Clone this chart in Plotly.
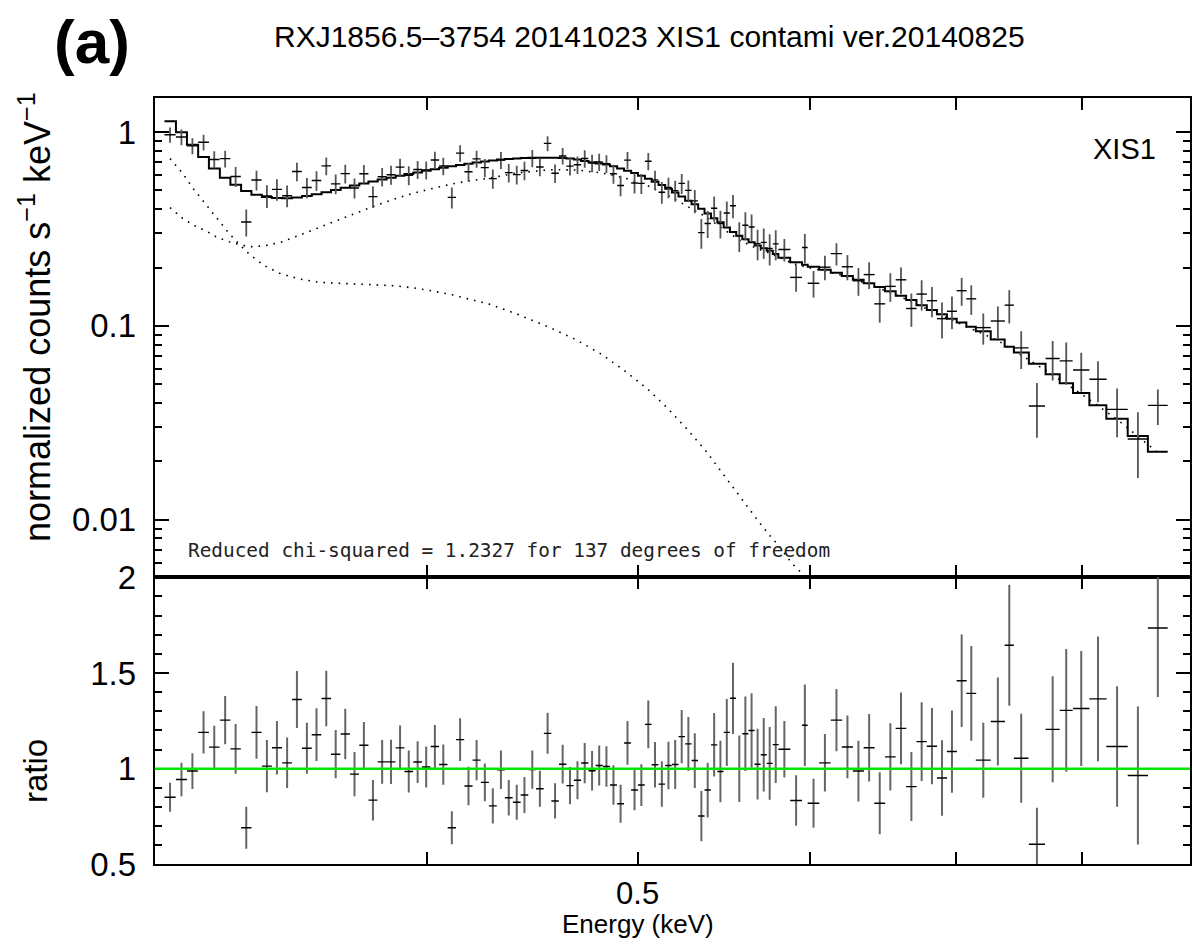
import math
import plotly.graph_objects as go

# ---------------- data ----------------
energy = [
    0.3049, 0.3086, 0.3122, 0.3159, 0.3195, 0.3232, 0.3268, 0.3305, 0.3341, 0.3378,
    0.3414, 0.3451, 0.3487, 0.3524, 0.3560, 0.3597, 0.3633, 0.3670, 0.3706, 0.3743,
    0.3779, 0.3816, 0.3852, 0.3889, 0.3925, 0.3962, 0.3998, 0.4035, 0.4071, 0.4108,
    0.4144, 0.4181, 0.4217, 0.4254, 0.4290, 0.4327, 0.4363, 0.4400, 0.4436, 0.4473,
    0.4509, 0.4546, 0.4582, 0.4619, 0.4655, 0.4692, 0.4728, 0.4765, 0.4801, 0.4838,
    0.4874, 0.4911, 0.4947, 0.4984, 0.5020, 0.5057, 0.5093, 0.5130, 0.5166, 0.5203,
    0.5239, 0.5276, 0.5312, 0.5349, 0.5385, 0.5422, 0.5458, 0.5495, 0.5531, 0.5568,
    0.5604, 0.5641, 0.5677, 0.5714, 0.5750, 0.5787,
    0.5840, 0.5913, 0.5968, 0.6023, 0.6096, 0.6171, 0.6243, 0.6316, 0.6388, 0.6460,
    0.6533, 0.6607, 0.6680, 0.6753, 0.6827, 0.6900, 0.6973, 0.7045, 0.7117, 0.7208,
    0.7320, 0.7409, 0.7503, 0.7629, 0.7757, 0.7869, 0.7995, 0.8138, 0.8304, 0.8489,
    0.8670,
]
half_width = [
    0.0018, 0.0018, 0.0018, 0.0018, 0.0018, 0.0018, 0.0018, 0.0018, 0.0018, 0.0018,
    0.0018, 0.0018, 0.0018, 0.0018, 0.0018, 0.0018, 0.0018, 0.0018, 0.0018, 0.0018,
    0.0018, 0.0018, 0.0018, 0.0018, 0.0018, 0.0018, 0.0018, 0.0018, 0.0018, 0.0018,
    0.0018, 0.0018, 0.0018, 0.0018, 0.0018, 0.0018, 0.0018, 0.0018, 0.0018, 0.0018,
    0.0018, 0.0018, 0.0018, 0.0018, 0.0018, 0.0018, 0.0018, 0.0018, 0.0018, 0.0018,
    0.0018, 0.0018, 0.0018, 0.0018, 0.0018, 0.0018, 0.0018, 0.0018, 0.0018, 0.0018,
    0.0018, 0.0018, 0.0018, 0.0018, 0.0018, 0.0018, 0.0018, 0.0018, 0.0018, 0.0018,
    0.0018, 0.0018, 0.0018, 0.0018, 0.0018, 0.0018,
    0.0037, 0.0037, 0.0018, 0.0037, 0.0037, 0.0037, 0.0037, 0.0037, 0.0037, 0.0037,
    0.0037, 0.0037, 0.0037, 0.0037, 0.0037, 0.0037, 0.0037, 0.0037, 0.0037, 0.0057,
    0.0055, 0.0036, 0.0058, 0.0065, 0.0058, 0.0054, 0.0069, 0.0074, 0.0094, 0.0091,
    0.0091,
]
counts = [
    0.970, 0.944, 0.850, 0.887, 0.723, 0.730, 0.591, 0.344, 0.566, 0.469,
    0.507, 0.470, 0.627, 0.518, 0.563, 0.670, 0.541, 0.611, 0.515, 0.610,
    0.465, 0.589, 0.603, 0.660, 0.599, 0.642, 0.638, 0.719, 0.669, 0.461,
    0.780, 0.625, 0.728, 0.656, 0.576, 0.718, 0.618, 0.604, 0.634, 0.734,
    0.661, 0.875, 0.614, 0.754, 0.668, 0.679, 0.731, 0.693, 0.702, 0.688,
    0.610, 0.531, 0.717, 0.547, 0.544, 0.708, 0.567, 0.490, 0.519, 0.499,
    0.544, 0.501, 0.442, 0.303, 0.338, 0.405, 0.338, 0.383, 0.417, 0.292,
    0.331, 0.324, 0.266, 0.270, 0.251, 0.265, 0.248, 0.178, 0.254, 0.166,
    0.201, 0.236, 0.202, 0.171, 0.184, 0.130, 0.160, 0.173, 0.123, 0.146,
    0.135, 0.109, 0.119, 0.152, 0.138, 0.098, 0.106, 0.128, 0.077, 0.0386,
    0.0679, 0.0660, 0.0592, 0.0531, 0.0371, 0.0261, 0.0389,
]
counts_err = [
    0.087, 0.087, 0.080, 0.082, 0.073, 0.073, 0.070, 0.055, 0.066, 0.063,
    0.064, 0.060, 0.069, 0.062, 0.066, 0.071, 0.063, 0.068, 0.061, 0.066,
    0.059, 0.065, 0.068, 0.070, 0.067, 0.068, 0.068, 0.073, 0.069, 0.057,
    0.076, 0.069, 0.073, 0.070, 0.066, 0.072, 0.068, 0.067, 0.069, 0.074,
    0.069, 0.079, 0.068, 0.074, 0.071, 0.071, 0.075, 0.072, 0.072, 0.072,
    0.069, 0.064, 0.072, 0.065, 0.065, 0.072, 0.066, 0.063, 0.063, 0.062,
    0.065, 0.062, 0.061, 0.053, 0.054, 0.060, 0.055, 0.056, 0.057, 0.051,
    0.055, 0.052, 0.048, 0.048, 0.046, 0.047, 0.033, 0.028, 0.044, 0.026,
    0.029, 0.031, 0.030, 0.028, 0.029, 0.026, 0.027, 0.027, 0.024, 0.026,
    0.024, 0.023, 0.023, 0.025, 0.024, 0.018, 0.020, 0.025, 0.017, 0.0121,
    0.0156, 0.0162, 0.0135, 0.0127, 0.0105, 0.0097, 0.0081,
]
model = [
    1.14, 1.00, 0.86, 0.745, 0.65, 0.582, 0.535, 0.497, 0.476, 0.463,
    0.457, 0.456, 0.46, 0.468, 0.478, 0.49, 0.503, 0.517, 0.53, 0.543,
    0.556, 0.569, 0.582, 0.595, 0.608, 0.62, 0.632, 0.644, 0.655, 0.666,
    0.677, 0.687, 0.697, 0.706, 0.715, 0.722, 0.728, 0.732, 0.735, 0.737,
    0.738, 0.738, 0.738, 0.736, 0.732, 0.722, 0.71, 0.70, 0.69, 0.68,
    0.667, 0.65, 0.632, 0.615, 0.595, 0.575, 0.555, 0.533, 0.51, 0.488,
    0.466, 0.443, 0.424, 0.402, 0.38, 0.36, 0.343, 0.322, 0.305, 0.292,
    0.28, 0.27, 0.26, 0.252, 0.244, 0.235, 0.225, 0.213, 0.207, 0.202,
    0.195, 0.188, 0.181, 0.173, 0.166, 0.159, 0.151, 0.143, 0.136, 0.128,
    0.121, 0.115, 0.109, 0.104, 0.099, 0.094, 0.085, 0.078, 0.073, 0.0637,
    0.0563, 0.0506, 0.045, 0.0389, 0.0332, 0.027, 0.0224,
]
ratio = [
    0.851, 0.944, 0.988, 1.190, 1.113, 1.254, 1.104, 0.692, 1.190, 1.014,
    1.110, 1.031, 1.362, 1.107, 1.178, 1.367, 1.076, 1.182, 0.972, 1.123,
    0.836, 1.036, 1.036, 1.109, 0.986, 1.035, 1.009, 1.116, 1.022, 0.692,
    1.152, 0.910, 1.045, 0.929, 0.806, 0.995, 0.849, 0.825, 0.863, 0.996,
    0.896, 1.185, 0.832, 1.024, 0.912, 0.940, 1.030, 0.990, 1.017, 1.012,
    0.915, 0.817, 1.135, 0.889, 0.915, 1.232, 1.021, 0.920, 1.017, 1.022,
    1.168, 1.130, 1.043, 0.753, 0.889, 1.125, 0.986, 1.190, 1.368, 1.000,
    1.183, 1.200, 1.024, 1.073, 1.028, 1.126, 1.102, 0.834, 1.227, 0.820,
    1.031, 1.254, 1.114, 0.988, 1.110, 0.820, 1.062, 1.211, 0.907, 1.142,
    1.118, 0.952, 1.090, 1.460, 1.394, 1.045, 1.247, 1.645, 1.055, 0.606,
    1.206, 1.305, 1.315, 1.365, 1.116, 0.965, 1.735,
]
ratio_err = [
    0.076, 0.087, 0.093, 0.110, 0.112, 0.126, 0.130, 0.110, 0.138, 0.136,
    0.140, 0.132, 0.149, 0.133, 0.138, 0.145, 0.126, 0.132, 0.115, 0.121,
    0.106, 0.114, 0.116, 0.117, 0.110, 0.109, 0.107, 0.113, 0.105, 0.086,
    0.112, 0.101, 0.105, 0.099, 0.092, 0.100, 0.093, 0.091, 0.094, 0.100,
    0.094, 0.107, 0.092, 0.101, 0.097, 0.099, 0.105, 0.103, 0.105, 0.106,
    0.103, 0.099, 0.114, 0.105, 0.109, 0.125, 0.119, 0.119, 0.124, 0.128,
    0.139, 0.141, 0.143, 0.131, 0.143, 0.166, 0.161, 0.175, 0.186, 0.174,
    0.195, 0.194, 0.185, 0.192, 0.190, 0.200, 0.147, 0.132, 0.213, 0.128,
    0.150, 0.163, 0.164, 0.159, 0.176, 0.162, 0.176, 0.188, 0.180, 0.206,
    0.199, 0.197, 0.215, 0.242, 0.247, 0.196, 0.230, 0.316, 0.233, 0.190,
    0.277, 0.320, 0.300, 0.326, 0.315, 0.360, 0.360,
]

# model components (dotted curves)
comp_a_energy = [
    0.3049, 0.3089, 0.3127, 0.3166, 0.3205, 0.3245, 0.3286, 0.3315, 0.3368, 0.3427,
    0.3494, 0.3568, 0.3645, 0.3716, 0.3789, 0.3870, 0.3946, 0.4030, 0.4108, 0.4189,
    0.4271, 0.4393, 0.4558, 0.4689, 0.4814, 0.4929, 0.5048, 0.5160, 0.5266, 0.5372,
    0.5471, 0.5570, 0.5671, 0.5742, 0.5813, 0.5885, 0.5938, 0.5990, 0.6100,
]
comp_a = [
    0.730, 0.616, 0.506, 0.427, 0.358, 0.301, 0.259, 0.235, 0.205, 0.186,
    0.175, 0.168, 0.166, 0.165, 0.163, 0.161, 0.157, 0.151, 0.145, 0.137,
    0.130, 0.116, 0.098, 0.0844, 0.0713, 0.059, 0.0477, 0.0377, 0.0295, 0.0228,
    0.0173, 0.0131, 0.0101, 0.00844, 0.00721, 0.00597, 0.00537, 0.00490, 0.0038,
]
comp_b_energy = [
    0.3049, 0.3089, 0.3127, 0.3166, 0.3205, 0.3245, 0.3286, 0.3315, 0.3368, 0.3427,
    0.3494, 0.3568, 0.3645, 0.3716, 0.3789, 0.3870, 0.3946, 0.4030, 0.4108, 0.4189,
    0.4271, 0.4393, 0.4558, 0.4689, 0.4814, 0.4929, 0.5048, 0.5160, 0.5266, 0.5372,
    0.5471, 0.5570, 0.5671, 0.5742, 0.5813, 0.5885, 0.5990, 0.6171, 0.6388, 0.6607,
    0.6827, 0.7045, 0.7320, 0.7629, 0.7995, 0.8302, 0.8670,
]
comp_b = [
    0.408, 0.36, 0.33, 0.31, 0.286, 0.272, 0.262, 0.256, 0.259, 0.27,
    0.293, 0.321, 0.35, 0.382, 0.418, 0.453, 0.485, 0.514, 0.54, 0.562,
    0.578, 0.614, 0.64, 0.638, 0.616, 0.581, 0.532, 0.474, 0.418, 0.367,
    0.318, 0.277, 0.251, 0.239, 0.225, 0.211, 0.200, 0.186, 0.164, 0.141,
    0.119, 0.102, 0.084, 0.063, 0.0446, 0.033, 0.0222,
]

x_label_vals = [0.5]
x_label_text = ["0.5"]
x_unlabeled_vals = [0.4, 0.6, 0.7, 0.8]
top_tick_vals = [0.01, 0.1, 1]
top_tick_text = ["0.01", "0.1", "1"]
top_minor_vals = [0.006, 0.007, 0.008, 0.009,
                  0.02, 0.03, 0.04, 0.05, 0.06, 0.07, 0.08, 0.09,
                  0.2, 0.3, 0.4, 0.5, 0.6, 0.7, 0.8, 0.9]
ratio_tick_vals = [0.5, 1, 1.5, 2]
ratio_tick_text = ["0.5", "1", "1.5", "2"]
ratio_minor_vals = [0.6, 0.7, 0.8, 0.9, 1.1, 1.2, 1.3, 1.4, 1.6, 1.7, 1.8, 1.9]

title_text = "RXJ1856.5\u20133754 20141023 XIS1 contami ver.20140825"
chi_text = "Reduced chi-squared = 1.2327 for 137 degrees of freedom"

# ---------------- figure ----------------
W, H = 1192, 960
FONT = "Liberation Sans, Arial, Helvetica, sans-serif"
# the photographed page shows the figure slightly squeezed vertically;
# these two numbers map wanted picture rows to figure rows
Y_OFF, Y_SCALE = 14.1, 0.9676


def px_x(p):
    return p / W


def px_y(p):
    return 1 - ((p - Y_OFF) / Y_SCALE) / H


top_dom = [px_y(577), px_y(95)]
rat_dom = [px_y(866), px_y(577)]
x_dom = [px_x(155), 1.0]
x_range = [math.log10(0.3), math.log10(0.897)]

fig = go.Figure()

# model step line (total)
step_x = [e - h for e, h in zip(energy, half_width)] + [energy[-1] + half_width[-1]]
step_y = model + [model[-1]]
fig.add_trace(go.Scatter(x=step_x, y=step_y, mode="lines", line_shape="hv",
                         line=dict(color="black", width=2), xaxis="x", yaxis="y",
                         hoverinfo="skip", showlegend=False))

# components
fig.add_trace(go.Scatter(x=comp_a_energy, y=comp_a, mode="lines",
                         line=dict(color="black", width=1.6, dash="1.6px,6px"),
                         xaxis="x", yaxis="y", showlegend=False))
fig.add_trace(go.Scatter(x=comp_b_energy, y=comp_b, mode="lines",
                         line=dict(color="black", width=1.6, dash="1.6px,6px"),
                         xaxis="x", yaxis="y", showlegend=False))

# data points (top)
fig.add_trace(go.Scatter(
    x=energy, y=counts, mode="markers",
    marker=dict(size=1, color="rgba(0,0,0,0)"),
    error_y=dict(type="data", array=counts_err, visible=True, color="#555555",
                 thickness=1.8, width=0),
    error_x=dict(type="data", array=half_width, visible=True, color="black",
                 thickness=1.4, width=0),
    xaxis="x", yaxis="y", showlegend=False))

# ratio points
fig.add_trace(go.Scatter(
    x=energy, y=ratio, mode="markers",
    marker=dict(size=1, color="rgba(0,0,0,0)"),
    error_y=dict(type="data", array=ratio_err, visible=True, color="#666666",
                 thickness=2.0, width=0),
    error_x=dict(type="data", array=half_width, visible=True, color="black",
                 thickness=1.4, width=0),
    xaxis="x2", yaxis="y2", showlegend=False))

axis_common = dict(showline=True, linecolor="black", linewidth=2, mirror="allticks",
                   showgrid=False, zeroline=False, ticks="inside",
                   tickcolor="black")
x_minor = dict(ticks="inside", ticklen=12, tickwidth=2, tickcolor="black",
               tickvals=x_unlabeled_vals)

TICK = 33
fig.update_layout(
    width=W, height=H,
    margin=dict(l=0, r=0, t=0, b=0),
    paper_bgcolor="white", plot_bgcolor="white",
    font=dict(family=FONT, color="black", size=TICK),
    showlegend=False,
    xaxis=dict(type="log", range=x_range, domain=x_dom, anchor="y",
               tickvals=x_label_vals, ticktext=x_label_text, showticklabels=False,
               ticklen=12, tickwidth=2, minor=x_minor, **axis_common),
    yaxis=dict(type="log", domain=top_dom, anchor="x",
               range=[math.log10(0.00504), math.log10(1.494)],
               tickvals=top_tick_vals, ticktext=top_tick_text,
               ticklen=14, tickwidth=2, ticklabelstandoff=10,
               tickfont=dict(size=TICK),
               minor=dict(ticks="inside", ticklen=7, tickwidth=1.5,
                          tickcolor="black", tickvals=top_minor_vals),
               **axis_common),
    xaxis2=dict(type="log", range=x_range, domain=x_dom, anchor="y2",
                matches="x",
                tickvals=x_label_vals, ticktext=x_label_text,
                ticklen=12, tickwidth=2, ticklabelstandoff=0,
                tickfont=dict(size=31), minor=x_minor,
                **axis_common),
    yaxis2=dict(domain=rat_dom, anchor="x2", range=[0.5, 2],
                tickvals=ratio_tick_vals, ticktext=ratio_tick_text,
                ticklen=14, tickwidth=2, ticklabelstandoff=10,
                tickfont=dict(size=TICK),
                minor=dict(ticks="inside", ticklen=7, tickwidth=1.5,
                           tickcolor="black", tickvals=ratio_minor_vals),
                **axis_common),
)

fig.add_shape(type="line", xref="x2 domain", yref="y2", x0=0, x1=1, y0=1, y1=1,
              line=dict(color="#00e600", width=2.5), layer="above")

annotations = [
    dict(text="<b>(a)</b>", x=px_x(92), y=px_y(38), font=dict(size=62, family=FONT)),
    dict(text=title_text, x=px_x(651), y=px_y(33), font=dict(size=30, family=FONT)),
    dict(text="XIS1", x=px_x(1160), y=px_y(146), xanchor="right", font=dict(size=29, family=FONT)),
    dict(text=chi_text, x=px_x(186), y=px_y(550), xanchor="left",
         font=dict(size=19.4, family="DejaVu Sans Mono, monospace", color="#222222")),
    dict(text="normalized counts s<sup>\u22121</sup> keV<sup>\u22121</sup>",
         x=px_x(35), y=px_y(315), textangle=-90, font=dict(size=36, family=FONT)),
    dict(text="ratio", x=px_x(35), y=px_y(772), textangle=-90, font=dict(size=33, family=FONT)),
    dict(text="Energy (keV)", x=px_x(639), y=px_y(926), font=dict(size=26, family=FONT)),
]
for a in annotations:
    a.setdefault("xanchor", "center")
    a.setdefault("yanchor", "middle")
    fig.add_annotation(xref="paper", yref="paper", showarrow=False, **a)

post = (
    "document.documentElement.style.margin='0px';"
    "document.documentElement.style.overflow='hidden';"
    "document.body.style.margin='0px';"
    "document.body.style.overflow='hidden';"
    "var gd=document.getElementById('{plot_id}');"
    "gd.style.position='fixed';gd.style.top='0px';gd.style.left='0px';"
)
fig.write_html("out.html", config={"displayModeBar": False}, post_script=post)
